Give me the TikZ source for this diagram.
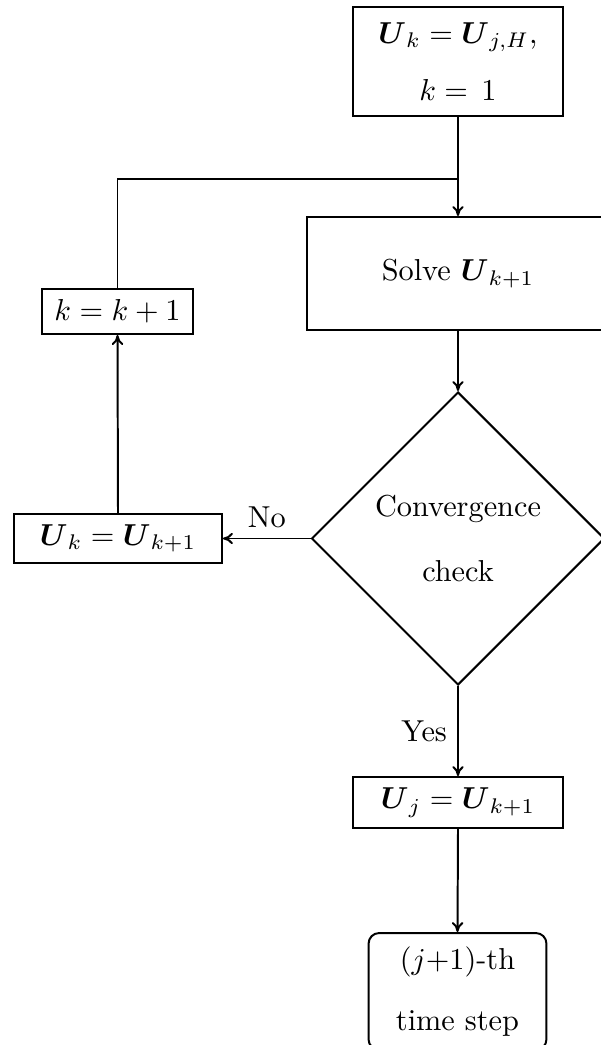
\documentclass[tikz,border=0pt]{standalone}
\usepackage{amsmath}
\usetikzlibrary{shapes.geometric,arrows.meta}
\begin{document}
\begin{tikzpicture}[x=0.33pt,y=-0.33pt,line width=0.65pt,>={To[length=3.3pt,width=3.8pt]},
  box/.style={draw,inner sep=0pt,align=center},
  decision/.style={draw,diamond,aspect=1,inner sep=0pt,align=center}]
\useasboundingbox (0,0) rectangle (600,1045);
\node[box,minimum width=69.3pt,minimum height=36pt] (init) at (458,61.5)
  {$\boldsymbol{U}_k=\boldsymbol{U}_{j,H}$,\\[7pt] $k=\,1$};
\node[box,minimum width=99.7pt,minimum height=37.3pt] (solve) at (458,273.5)
  {Solve $\boldsymbol{U}_{k+1}$};
\node[decision,minimum width=96.7pt,minimum height=96.7pt] (conv) at (458,538.5)
  {Convergence\\[9.5pt] check};
\node[box,minimum width=49.8pt,minimum height=14.9pt] (inc) at (117.5,311.5)
  {$k=k+1$};
\node[box,minimum width=68.6pt,minimum height=16.2pt] (upd) at (118,538.5)
  {$\boldsymbol{U}_k=\boldsymbol{U}_{k+1}$};
\node[box,minimum width=69.3pt,minimum height=16.8pt] (acc) at (458,802.5)
  {$\boldsymbol{U}_j=\boldsymbol{U}_{k+1}$};
\node[box,rounded corners=3.5pt,minimum width=58.7pt,minimum height=38.6pt] (next) at (457.5,991.5)
  {$(j{+}1)$-th\\[8pt] time step};
\coordinate (jn) at (458,179);
\draw (init.south) -- (jn);
\draw[->] (jn) -- (solve.north);
\draw (inc.north) |- (jn);
\draw[->] (solve.south) -- (conv.north);
\draw[->] (conv.west) -- node[above] {No} (upd.east);
\draw[->] (upd.north) -- (inc.south);
\draw[->] (conv.south) -- node[left] {Yes} (acc.north);
\draw[->] (acc.south) -- (next.north);
\end{tikzpicture}
\end{document}
